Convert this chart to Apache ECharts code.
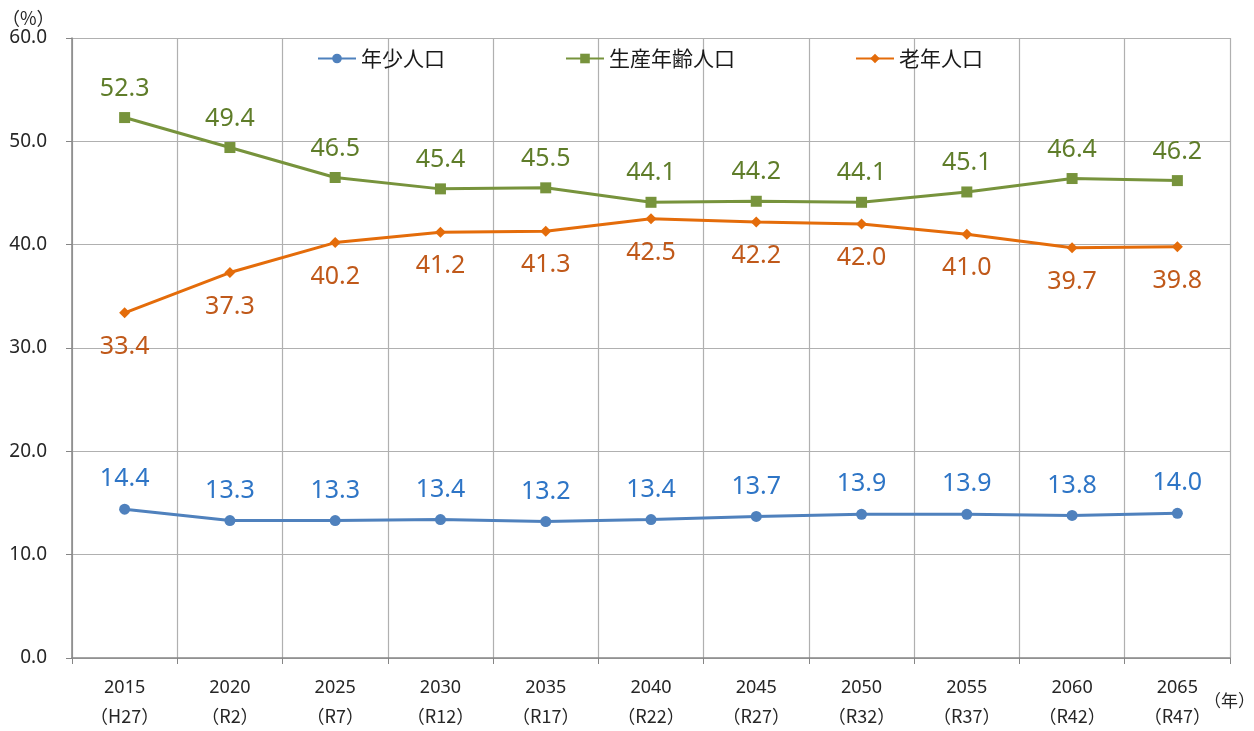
<!DOCTYPE html>
<html>
<head>
<meta charset="utf-8">
<script src="https://cdn.jsdelivr.net/npm/echarts@6/dist/echarts.min.js"></script>
<style>
  html, body { margin: 0; padding: 0; background: #fff; }
  #main { width: 1254px; height: 731px; }
</style>
</head>
<body>
<div id="main"></div>
<script>
// categories (year / era)
const years = ['2015', '2020', '2025', '2030', '2035', '2040', '2045', '2050', '2055', '2060', '2065'];
const eras = ['H27', 'R2', 'R7', 'R12', 'R17', 'R22', 'R27', 'R32', 'R37', 'R42', 'R47'];

// % of population
const young = [14.4, 13.3, 13.3, 13.4, 13.2, 13.4, 13.7, 13.9, 13.9, 13.8, 14.0];
const working = [52.3, 49.4, 46.5, 45.4, 45.5, 44.1, 44.2, 44.1, 45.1, 46.4, 46.2];
const elderly = [33.4, 37.3, 40.2, 41.2, 41.3, 42.5, 42.2, 42.0, 41.0, 39.7, 39.8];

const font = '"Noto Sans", "Noto Sans CJK JP", sans-serif';
const cjk = '"Noto Sans CJK JP", "Noto Sans", sans-serif';

const chart = echarts.init(document.getElementById('main'));

function line(name, data, color, labelColor, symbol, size, pos, dist) {
    return {
        name: name,
        type: 'line',
        data: data,
        symbol: symbol,
        symbolSize: size,
        lineStyle: {color: color, width: 3},
        itemStyle: {color: color},
        label: {
            show: true,
            position: pos,
            distance: dist,
            color: labelColor,
            fontSize: 25,
            fontFamily: font,
            formatter: p => p.value.toFixed(1)
        },
        emphasis: {disabled: true}
    };
}

chart.setOption({
    animation: false,
    grid: {left: 72, right: 24, top: 38, bottom: 73},
    legend: {
        top: 43,
        left: 312,
        itemGap: 120,
        itemWidth: 38,
        itemHeight: 12,
        textStyle: {fontSize: 21, fontFamily: cjk, color: '#1a1a1a'},
        data: ['年少人口', '生産年齢人口', '老年人口']
    },
    xAxis: {
        type: 'category',
        data: years,
        boundaryGap: true,
        axisLine: {lineStyle: {color: '#868686', width: 1.5}},
        axisTick: {show: true, length: 6, lineStyle: {color: '#868686'}},
        splitLine: {show: true, lineStyle: {color: '#b0b0b0', width: 1.2}},
        axisLabel: {
            interval: 0,
            margin: 16,
            formatter: (v, i) => '{y|' + v + '}\n{e|（' + eras[i] + '）}',
            rich: {
                y: {fontSize: 18, fontFamily: font, color: '#262626', lineHeight: 28},
                e: {fontSize: 18, fontFamily: cjk, color: '#262626', lineHeight: 28}
            }
        }
    },
    yAxis: {
        type: 'value',
        min: 0,
        max: 60,
        interval: 10,
        axisLine: {show: true, lineStyle: {color: '#868686', width: 1.5}},
        axisTick: {show: true, length: 6, lineStyle: {color: '#868686'}},
        splitLine: {lineStyle: {color: '#b0b0b0', width: 1.2}},
        axisLabel: {
            fontSize: 19, fontFamily: font, color: '#262626', margin: 25,
            formatter: v => v.toFixed(1)
        }
    },
    graphic: [
        {type: 'text', left: 2, top: 9, style: {text: '（%）', fontSize: 18, fontFamily: cjk, fill: '#262626'}},
        {type: 'text', left: 1204, top: 692, style: {text: '（年）', fontSize: 17, fontFamily: cjk, fill: '#262626'}}
    ],
    series: [
        line('年少人口', young, '#4f81bd', '#2e75c6', 'circle', 11, 'top', 12),
        line('生産年齢人口', working, '#77933c', '#5f7d2a', 'rect', 11, 'top', 11),
        line('老年人口', elderly, '#e46c0a', '#c0591a', 'diamond', 11, 'bottom', 16)
    ]
});
</script>
</body>
</html>
